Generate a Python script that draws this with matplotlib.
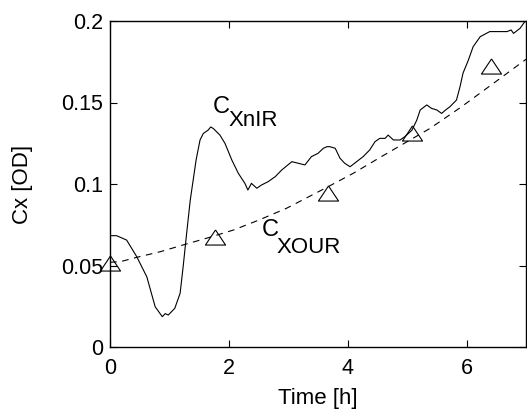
import matplotlib
matplotlib.use("Agg")
import matplotlib.pyplot as plt

plt.rcParams['font.family'] = ['Liberation Sans', 'DejaVu Sans']

# Solid curve (C_XnIR)
t_nir = [0.0, 0.11, 0.28, 0.45, 0.62, 0.76, 0.88, 0.93, 0.98, 1.09, 1.18, 1.23, 1.29, 1.35,
         1.45, 1.515, 1.57, 1.65, 1.695, 1.74, 1.85, 1.935, 2.05, 2.16, 2.27, 2.32, 2.38,
         2.47, 2.55, 2.66, 2.78, 2.89, 3.06, 3.17, 3.28, 3.39, 3.50, 3.59, 3.65, 3.70, 3.79,
         3.87, 3.95, 4.04, 4.15, 4.26, 4.37, 4.46, 4.54, 4.63, 4.68, 4.77, 4.88, 4.96, 5.08,
         5.16, 5.22, 5.33, 5.41, 5.50, 5.58, 5.65, 5.72, 5.83, 5.89, 5.94, 6.03, 6.11, 6.23,
         6.39, 6.56, 6.68, 6.75, 6.79, 6.90, 6.98, 7.0]
y_nir = [0.0683, 0.0683, 0.0656, 0.0554, 0.043, 0.0247, 0.0186, 0.0205, 0.0196, 0.0237, 0.033,
         0.049, 0.0698, 0.090, 0.115, 0.127, 0.131, 0.133, 0.135, 0.134, 0.130, 0.1249, 0.1147,
         0.1065, 0.1004, 0.0963, 0.1004, 0.0974, 0.0994, 0.1014, 0.1045, 0.1086, 0.1137,
         0.1127, 0.1117, 0.1168, 0.1188, 0.1219, 0.1229, 0.1229, 0.1219, 0.1158, 0.1127,
         0.1106, 0.1137, 0.1168, 0.1209, 0.126, 0.128, 0.128, 0.130, 0.127, 0.127, 0.129,
         0.133, 0.139, 0.1454, 0.1485, 0.1464, 0.1454, 0.1433, 0.1455, 0.1474, 0.1515, 0.1597,
         0.168, 0.176, 0.1842, 0.1904, 0.1935, 0.1935, 0.1935, 0.1945, 0.1924, 0.1955, 0.1996,
         0.2]

# Dashed curve (C_XOUR)
t_our = [0.0, 0.17, 0.45, 0.85, 1.23, 1.65, 2.08, 2.5, 2.97, 3.6, 4.09, 4.6, 5.38, 5.9, 6.45, 7.0]
y_our = [0.052, 0.0523, 0.055, 0.0585, 0.0626, 0.067, 0.0718, 0.0778, 0.0851, 0.097, 0.1065,
         0.1175, 0.134, 0.147, 0.1617, 0.1765]

# Triangle markers
t_tri = [0.0, 1.77, 3.67, 5.08, 6.41]
y_tri = [0.0513, 0.0673, 0.0947, 0.131, 0.1726]

fig = plt.figure(figsize=(5.27, 4.16), dpi=100)
ax = fig.add_axes([110/527, 1-347/416, 416/527, 326/416])

ax.plot(t_nir, y_nir, color='black', lw=0.8)
ax.plot(t_our, y_our, color='black', lw=0.8, dashes=(6, 5))
tri = [(0, 0.75), (-1, -0.75), (1, -0.75), (0, 0.75)]
ax.plot(t_tri, y_tri, linestyle='none', marker=tri, markersize=14.5,
        markerfacecolor='none', markeredgecolor='black', markeredgewidth=0.8, clip_on=False)

ax.set_xlim(0, 7)
ax.set_ylim(0, 0.2)
ax.set_xticks([0, 2, 4, 6])
ax.set_yticks([0, 0.05, 0.1, 0.15, 0.2])
ax.set_yticklabels(['0', '0.05', '0.1', '0.15', '0.2'])
ax.tick_params(direction='in', length=5, width=0.8, top=True, right=True,
               labelsize=15.5)
ax.tick_params(axis='y', pad=5)
ax.tick_params(axis='x', pad=8)
for s in ax.spines.values():
    s.set_linewidth(1.0)

ax.set_xlabel('Time [h]', fontsize=16)
ax.set_ylabel('Cx [OD]', fontsize=16)
ax.xaxis.set_label_coords(0.5, -0.125)
ax.yaxis.set_label_coords(-0.185, 0.5)

# Curve labels
ax.text(1.728, 0.1433, 'C', fontsize=17, ha='left', va='baseline')
ax.text(2.0, 0.1358, 'XnIR', fontsize=16, ha='left', va='baseline')
ax.text(2.55, 0.0681, 'C', fontsize=17, ha='left', va='baseline')
ax.text(2.80, 0.0577, 'XOUR', fontsize=16, ha='left', va='baseline')

fig.savefig('out.png', dpi=100)
